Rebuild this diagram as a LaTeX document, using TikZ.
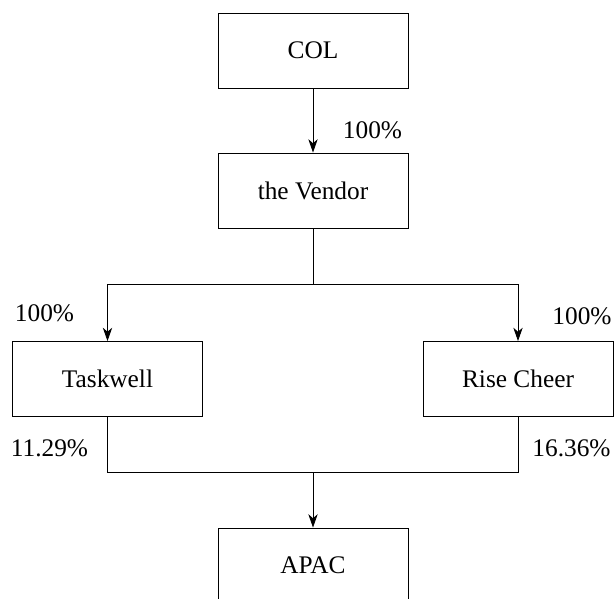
\documentclass[tikz,border=0pt]{standalone}
\usepackage{fontspec}
\setmainfont{Liberation Serif}
\usetikzlibrary{arrows.meta}
\begin{document}
\begin{tikzpicture}[x=0.75pt,y=-0.75pt,
  box/.style={draw, line width=0.65pt, minimum width=142.5pt, minimum height=56.25pt, inner sep=0pt, font=\fontsize{19}{23}\selectfont},
  lbl/.style={font=\fontsize{19}{23}\selectfont, inner sep=0pt},
  conn/.style={line width=0.65pt},
  arr/.style={conn, -{Stealth[length=10pt,width=7pt,inset=3pt]}}]
\useasboundingbox (0,0) rectangle (614,599);
\node[box] (col) at (313,50.5) {COL};
\node[box] (vendor) at (313,190.5) {the Vendor};
\node[box] (task) at (107.5,379) {Taskwell};
\node[box] (rise) at (518,379) {Rise Cheer};
\node[box] (apac) at (313,565.5) {APAC};
\coordinate (split) at (313,284);
\coordinate (merge) at (313,472);
\draw[arr] (col) -- (vendor);
\draw[conn] (vendor.south) -- (split);
\draw[arr] (split) -| (task);
\draw[arr] (split) -| (rise);
\draw[conn] (task.south) |- (merge);
\draw[conn] (rise.south) |- (merge);
\draw[arr] (merge) -- (apac);
\node[lbl] (l1) at (372.5,130) {100\%};
\node[lbl] (l2) at (44.5,313) {100\%};
\node[lbl] (l3) at (582,316) {100\%};
\node[lbl] (l4) at (49.5,448) {11.29\%};
\node[lbl] (l5) at (571.5,448) {16.36\%};
\end{tikzpicture}
\end{document}
